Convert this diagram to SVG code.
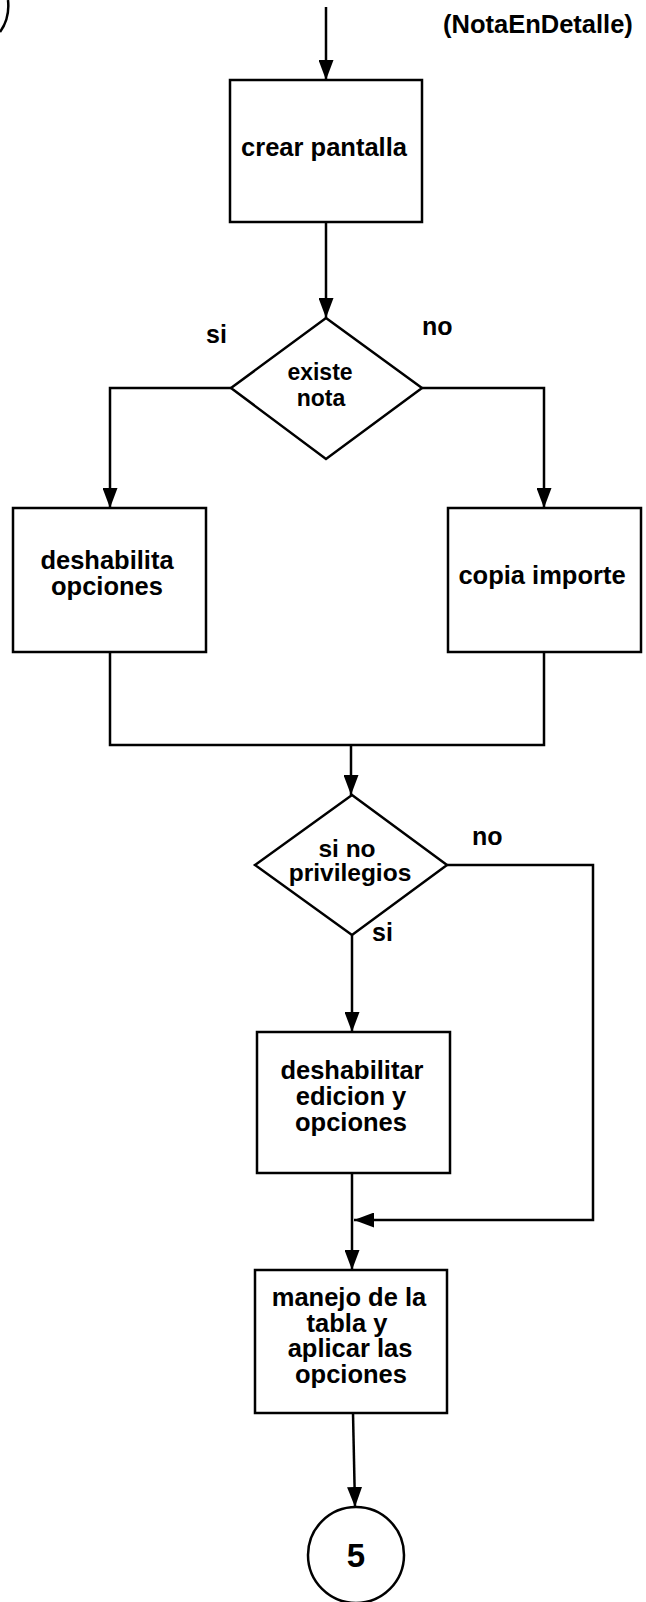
<svg xmlns="http://www.w3.org/2000/svg" width="646" height="1602" viewBox="0 0 646 1602">
  <style>
    .shape { fill: #fff; stroke: #000; stroke-width: 2.5; }
    .line { fill: none; stroke: #000; stroke-width: 2.5; }
    .lbl { font-family: "Liberation Sans", Arial, sans-serif; font-size: 25.5px; font-weight: bold; fill: #000; text-anchor: middle; }
    .small { font-size: 23px; }
    .mid { font-size: 24.5px; }
    .tag { font-family: "Liberation Sans", Arial, sans-serif; font-size: 25px; font-weight: bold; fill: #000; }
  </style>
  <defs>
    <marker id="arrow" markerUnits="userSpaceOnUse" markerWidth="20" markerHeight="15" refX="20" refY="7.5" orient="auto">
      <path d="M0,0 L20,7.5 L0,15 z" fill="#000"/>
    </marker>
  </defs>
  <rect width="646" height="1602" fill="#fff"/>

  <!-- edge of the previous page connector -->
  <path class="line" d="M 8 0 Q 10 18 0 32"/>

  <text class="tag" x="443" y="33" style="font-size:25.5px">(NotaEnDetalle)</text>

  <g id="connectors">
    <path class="line" d="M326 7 V80" marker-end="url(#arrow)"/>
    <path class="line" d="M326 222 V318" marker-end="url(#arrow)"/>
    <path class="line" d="M231 388 H110 V508" marker-end="url(#arrow)"/>
    <path class="line" d="M422 388 H544 V508" marker-end="url(#arrow)"/>
    <path class="line" d="M110 652 V745 H544 V652"/>
    <path class="line" d="M351 745 V795" marker-end="url(#arrow)"/>
    <path class="line" d="M447 865 H593 V1220 H354" marker-end="url(#arrow)"/>
    <path class="line" d="M352 935 L352 1032" marker-end="url(#arrow)"/>
    <path class="line" d="M352 1173 V1270" marker-end="url(#arrow)"/>
    <path class="line" d="M353 1413 L355 1507" marker-end="url(#arrow)"/>
    <text class="tag" x="206" y="343">si</text>
    <text class="tag" x="422" y="335">no</text>
    <text class="tag" x="472" y="845">no</text>
    <text class="tag" x="372" y="941">si</text>
  </g>

  <g id="crear-pantalla">
    <rect class="shape" x="230" y="80" width="192" height="142"/>
    <text class="lbl" x="324" y="156">crear pantalla</text>
  </g>

  <g id="existe-nota">
    <polygon class="shape" points="326,318 422,388 326,459 231,388"/>
    <text class="lbl small" x="320" y="380">existe</text>
    <text class="lbl small" x="321" y="406">nota</text>
  </g>

  <g id="deshabilita-opciones">
    <rect class="shape" x="13" y="508" width="193" height="144"/>
    <text class="lbl" x="107" y="569">deshabilita</text>
    <text class="lbl" x="107" y="595">opciones</text>
  </g>

  <g id="copia-importe">
    <rect class="shape" x="448" y="508" width="193" height="144"/>
    <text class="lbl" x="542" y="584">copia importe</text>
  </g>

  <g id="privilegios">
    <polygon class="shape" points="352,795 447,865 352,935 255,865"/>
    <text class="lbl mid" x="347" y="857">si no</text>
    <text class="lbl mid" x="350" y="881">privilegios</text>
  </g>

  <g id="deshabilitar-edicion">
    <rect class="shape" x="257" y="1032" width="193" height="141"/>
    <text class="lbl" x="352" y="1079">deshabilitar</text>
    <text class="lbl" x="351" y="1105">edicion y</text>
    <text class="lbl" x="351" y="1131">opciones</text>
  </g>

  <g id="manejo-tabla">
    <rect class="shape" x="255" y="1270" width="192" height="143"/>
    <text class="lbl" x="349" y="1306">manejo de la</text>
    <text class="lbl" x="347" y="1332">tabla y</text>
    <text class="lbl" x="350" y="1357">aplicar las</text>
    <text class="lbl" x="351" y="1383">opciones</text>
  </g>

  <g id="conector-5">
    <circle class="shape" cx="356" cy="1555" r="48"/>
    <text class="lbl" x="356" y="1567" style="font-size:33px">5</text>
  </g>
</svg>
